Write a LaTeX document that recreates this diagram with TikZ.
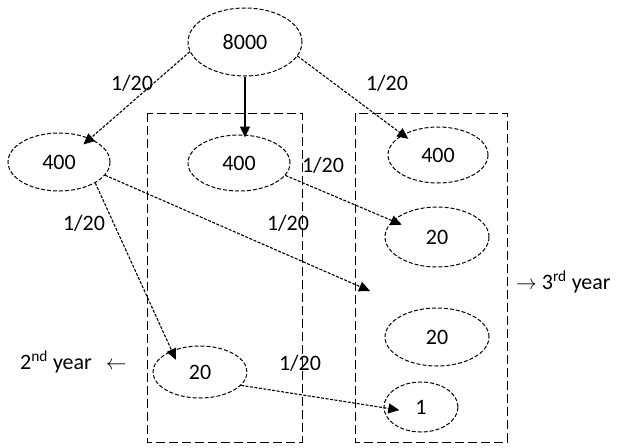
\documentclass[tikz,border=0pt]{standalone}
\usepackage{fontspec}
\setmainfont{Carlito}
\usetikzlibrary{shapes.geometric,arrows.meta}
\begin{document}
\begin{tikzpicture}[x=1pt,y=-1pt,
  every node/.style={font=\fontsize{22}{26}\selectfont},
  oval/.style={ellipse, draw, dash pattern=on 4pt off 2pt, line width=1pt, inner sep=0pt},
  box/.style={draw, dash pattern=on 9pt off 4pt, line width=1pt},
  conn/.style={-{Triangle[length=11pt,width=10pt]}, line width=1.1pt, dash pattern=on 3pt off 1.5pt},
  solidconn/.style={-{Triangle[length=11pt,width=10pt]}, line width=1.1pt},
  lbl/.style={inner sep=0pt}]
\useasboundingbox (0,0) rectangle (617,447);
% year boxes
\draw[box] (147,113) rectangle (302,442);
\draw[box] (355,113) rectangle (507,442);
% nodes
\node[oval, minimum width=114pt, minimum height=68pt] (top) at (245,42) {8000};
\node[oval, minimum width=102pt, minimum height=58pt] (l400) at (59,162) {400};
\node[oval, minimum width=102pt, minimum height=56pt] (m400) at (239,163) {400};
\node[oval, minimum width=100pt, minimum height=56pt] (r400) at (438,155) {400};
\node[oval, minimum width=104pt, minimum height=60pt] (r20a) at (437,237) {20};
\node[oval, minimum width=104pt, minimum height=58pt] (r20b) at (437,337) {20};
\node[oval, minimum width=74pt, minimum height=50pt] (one) at (421,407) {1};
\node[oval, minimum width=94pt, minimum height=52pt] (b20) at (200,372) {20};
\coordinate (free) at (370,291);
% connectors
\draw[conn, shorten >=-9pt] (top.190) -- (l400.37);
\draw[solidconn, shorten >=-3pt] (top.south) -- (top.south |- m400.north);
\draw[conn, shorten >=-7pt] (top.-15) -- (r400.150);
\draw[conn, shorten >=-10pt] (m400.-15) -- (r20a.160);
\draw[conn, shorten >=-10pt] (l400.-30) -- (b20.143);
\draw[conn] (l400.-16) -- (free);
\draw[conn, shorten >=-16pt] (b20.-18) -- (one.181);
% labels
\node[lbl] (la) at (132,83) {1/20};
\node[lbl] (lb) at (387,83) {1/20};
\node[lbl] (lc) at (323,165) {1/20};
\node[lbl] (ld) at (84,223) {1/20};
\node[lbl] (le) at (288,223) {1/20};
\node[lbl] (lf) at (300,363) {1/20};
\node[lbl, anchor=west] (y2) at (20,362) {2\textsuperscript{nd} year\hspace{14pt}$\leftarrow$};
\node[lbl, anchor=west] (y3) at (516,282) {$\rightarrow$ 3\textsuperscript{rd} year};
\end{tikzpicture}
\end{document}
